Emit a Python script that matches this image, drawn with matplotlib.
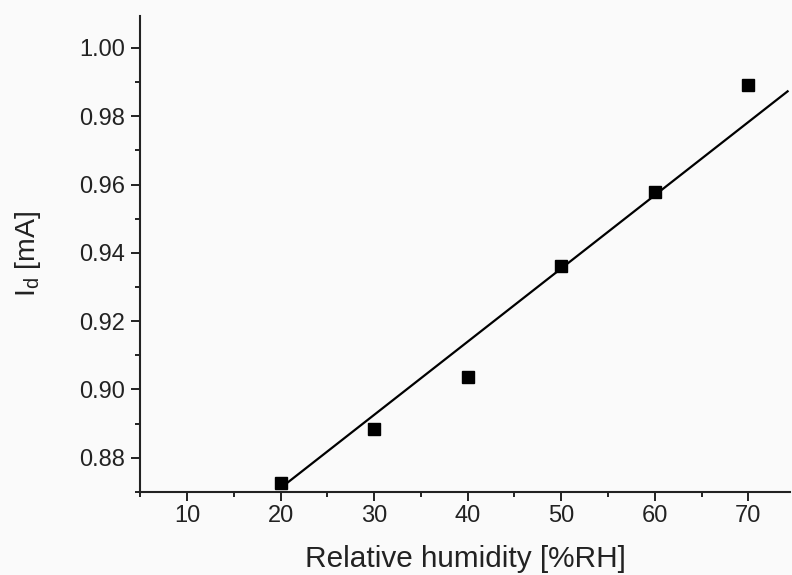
import matplotlib
matplotlib.use("Agg")
import matplotlib.pyplot as plt
from matplotlib.ticker import MultipleLocator

plt.rcParams['font.family'] = ['Liberation Sans', 'DejaVu Sans']
plt.rcParams['mathtext.default'] = 'regular'

# measured points
humidity = [20, 30, 40, 50, 60, 70]
current = [0.8725, 0.8883, 0.9036, 0.936, 0.9577, 0.9891]

# fitted line as drawn
fit_x = [20, 74.2]
fit_y = [0.8711, 0.9873]

x_ticks = [10, 20, 30, 40, 50, 60, 70]
y_ticks = [0.88, 0.90, 0.92, 0.94, 0.96, 0.98, 1.00]

fig = plt.figure(figsize=(7.92, 5.75), dpi=100)
fig.patch.set_facecolor('#fafafa')
ax = fig.add_axes([0.177, 0.144, 0.821, 0.829])
ax.set_facecolor('#fafafa')

ax.plot(fit_x, fit_y, color='black', lw=1.6, zorder=2)
ax.plot(humidity, current, 's', color='black', markersize=8, zorder=3)

ax.set_xlim(5, 74.5)
ax.set_ylim(0.8699, 1.0095)
ax.set_xticks(x_ticks)
ax.set_yticks(y_ticks)
ax.set_yticklabels([f"{v:.2f}" for v in y_ticks])
ax.xaxis.set_minor_locator(MultipleLocator(5))
ax.yaxis.set_minor_locator(MultipleLocator(0.01))

for side in ['top', 'right']:
    ax.spines[side].set_visible(False)
for side in ['left', 'bottom']:
    ax.spines[side].set_linewidth(1.5)
    ax.spines[side].set_color('#222222')

ax.tick_params(which='major', direction='out', length=6.5, width=1.4,
               labelsize=17, colors='#222222')
ax.tick_params(axis='x', which='major', pad=3)
ax.tick_params(axis='y', which='major', pad=4.5)
ax.tick_params(which='minor', direction='out', length=3.6, width=1.4, colors='#222222')

ax.set_xlabel('Relative humidity [%RH]', fontsize=21.4, color='#222222', va='baseline')
ax.xaxis.set_label_coords(0.5, -0.157)
ax.set_ylabel('$I_d$ [mA]', fontsize=20.5, color='#222222', va='center')
ax.yaxis.set_label_coords(-0.173, 0.5)

fig.savefig('out.png', dpi=100, facecolor=fig.get_facecolor())
